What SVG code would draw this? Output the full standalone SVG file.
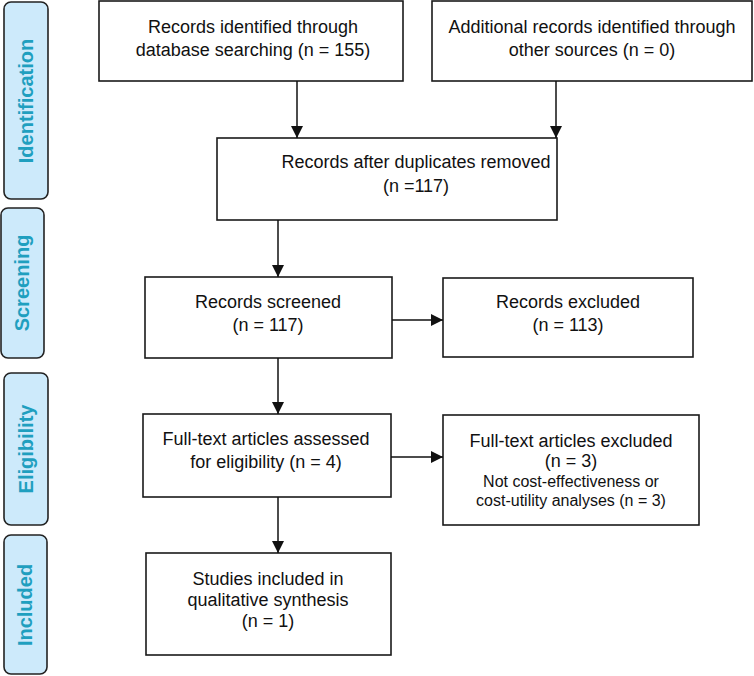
<svg xmlns="http://www.w3.org/2000/svg" width="754" height="676" viewBox="0 0 754 676">
<style>
.box{fill:#fff;stroke:#1a1a1a;stroke-width:1.6}
.side{fill:#cdeafb;stroke:#222;stroke-width:1.6}
.t{font-family:"Liberation Sans",Arial,sans-serif;font-size:18px;fill:#111;text-anchor:middle}
.s{font-size:16px}
.lab{font-family:"Liberation Sans",Arial,sans-serif;font-size:20px;font-weight:bold;fill:#1f9fbf;text-anchor:middle}
.c{stroke:#111;stroke-width:1.5;fill:none;marker-end:url(#ah)}
</style>
<defs>
<marker id="ah" markerUnits="userSpaceOnUse" markerWidth="12" markerHeight="12" refX="12" refY="6" orient="auto">
<path d="M0,0 L12,6 L0,12 z" fill="#111"/>
</marker>
</defs>
<g id="side-identification"><rect class="side" x="4" y="2" width="44" height="197" rx="7"/><text class="lab" transform="translate(33,101) rotate(-90)">Identification</text></g>
<g id="side-screening"><rect class="side" x="1" y="208" width="43" height="150" rx="7"/><text class="lab" transform="translate(29,283) rotate(-90)">Screening</text></g>
<g id="side-eligibility"><rect class="side" x="4" y="373" width="44" height="152" rx="7"/><text class="lab" transform="translate(33,449) rotate(-90)">Eligibility</text></g>
<g id="side-included"><rect class="side" x="4" y="535" width="43" height="139" rx="7"/><text class="lab" transform="translate(32,605) rotate(-90)">Included</text></g>

<g id="n-db"><rect class="box" x="99" y="1" width="304" height="80"/><text class="t" x="253" y="33">Records identified through</text><text class="t" x="253" y="56">database searching (n = 155)</text></g>
<g id="n-other"><rect class="box" x="432" y="1" width="320" height="80"/><text class="t" x="592" y="33">Additional records identified through</text><text class="t" x="592" y="56">other sources (n = 0)</text></g>
<g id="n-dup"><rect class="box" x="217" y="138" width="340" height="82"/><text class="t" x="416" y="168">Records after duplicates removed</text><text class="t" x="416" y="192">(n =117)</text></g>
<g id="n-screened"><rect class="box" x="145" y="277" width="247" height="81"/><text class="t" x="268" y="308">Records screened</text><text class="t" x="268" y="331">(n = 117)</text></g>
<g id="n-excluded"><rect class="box" x="443" y="278" width="250" height="79"/><text class="t" x="568" y="308">Records excluded</text><text class="t" x="568" y="331">(n = 113)</text></g>
<g id="n-fulltext"><rect class="box" x="143" y="414" width="248" height="83"/><text class="t" x="266" y="445">Full-text articles assessed</text><text class="t" x="266" y="468">for eligibility (n = 4)</text></g>
<g id="n-ftexcluded"><rect class="box" x="443" y="415" width="256" height="110"/><text class="t" x="571" y="447">Full-text articles excluded</text><text class="t" x="571" y="467">(n = 3)</text><text class="t s" x="571" y="487">Not cost-effectiveness or</text><text class="t s" x="571" y="506">cost-utility analyses (n = 3)</text></g>
<g id="n-included"><rect class="box" x="146" y="553" width="245" height="102"/><text class="t" x="268" y="585">Studies included in</text><text class="t" x="268" y="606">qualitative synthesis</text><text class="t" x="268" y="627">(n = 1)</text></g>

<g id="connectors">
<line class="c" x1="297" y1="81" x2="297" y2="138"/>
<line class="c" x1="556" y1="81" x2="556" y2="138"/>
<line class="c" x1="278" y1="220" x2="278" y2="277"/>
<line class="c" x1="392" y1="320" x2="443" y2="320"/>
<line class="c" x1="278" y1="358" x2="278" y2="414"/>
<line class="c" x1="391" y1="457" x2="443" y2="457"/>
<line class="c" x1="278" y1="497" x2="278" y2="553"/>
</g>
</svg>
